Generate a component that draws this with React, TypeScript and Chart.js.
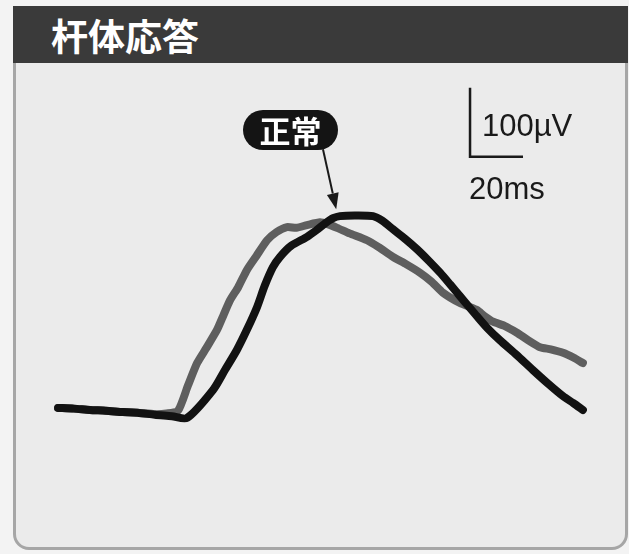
import React, { useEffect, useRef } from "react";
import { Chart, registerables } from "chart.js";

Chart.register(...registerables);

// ---- data (time in ms, amplitude in µV) ----
const titleText = "杆体応答";
const normalLabel = "正常";
const uvLabel = "100µV";
const msLabel = "20ms";

// normal (black) rod response
const blackTimeMs = [0, 6, 12, 18, 24.5, 30, 36.6, 43, 48.7, 58.5, 63, 67.5, 71.5, 75.1, 78, 81.1, 83.8, 88, 94, 97.7, 101, 103.8, 106.4, 112, 118.9, 122.5, 126.4, 131, 135.5, 140, 144.2, 148, 151.7, 155, 158.1, 162, 166.8, 173, 179.2, 185, 190.6, 194.5, 198.1];
const blackUv = [3, 2, 0, -1, -3, -4, -7, -9, -11.5, 29, 58, 87, 118, 149, 180, 207, 222, 238, 251, 261, 271, 278, 281, 282, 281, 274, 262, 248, 233, 216, 199, 182, 165, 150, 136, 119, 101, 80, 58, 38, 20, 10, 0];

// patient (gray) rod response
const grayTimeMs = [0, 6, 12, 18, 24.5, 30, 36.6, 41, 45.3, 49, 52.5, 56, 60, 62.5, 64.9, 68, 71.3, 75, 78.9, 82.5, 86.4, 90, 94, 98.9, 102, 105.3, 110, 116.6, 121, 126.4, 131.5, 136.6, 141, 145.3, 151.7, 155, 158.1, 161, 164.2, 168.5, 173.2, 177.5, 181.9, 186, 190.6, 194.5, 198.1];
const grayUv = [3, 2, 0, -1, -3, -4, -6, -5, -1, 35, 68, 90, 116, 138, 159, 178, 203, 224, 246, 258, 265, 264, 268, 272, 269, 264, 256, 246, 236, 222, 211, 199, 186, 170, 155, 150, 145, 136, 128, 122, 112, 101, 91, 88, 83, 76, 68];

// scale bar placement in data units
const scaleBarOriginMs = 155.5;
const scaleBarOriginUv = 367;
const scaleBarMs = 20;
const scaleBarUv = 100;

// arrow for the "正常" label, data units
const arrowFromMs = 100;
const arrowFromUv = 378;
const arrowToMs = 105;
const arrowToUv = 291;

const X_MIN = -21.9;
const X_MAX = 215.5;
const Y_MIN = -208.7;
const Y_MAX = 594.2;

const W = 629;
const H = 554;

const overlayPlugin = {
  id: "overlay",
  afterDatasetsDraw(chart: any) {
    const { ctx } = chart;
    const xs = chart.scales.x;
    const ys = chart.scales.y;
    ctx.save();
    // scale bar
    const x0 = xs.getPixelForValue(scaleBarOriginMs);
    const y0 = ys.getPixelForValue(scaleBarOriginUv);
    const x1 = xs.getPixelForValue(scaleBarOriginMs + scaleBarMs);
    const y1 = ys.getPixelForValue(scaleBarOriginUv + scaleBarUv);
    ctx.strokeStyle = "#1a1a1a";
    ctx.lineWidth = 2.5;
    ctx.lineCap = "butt";
    ctx.beginPath();
    ctx.moveTo(x0, y1);
    ctx.lineTo(x0, y0);
    ctx.lineTo(x1, y0);
    ctx.stroke();

    // arrow
    const ax0 = xs.getPixelForValue(arrowFromMs);
    const ay0 = ys.getPixelForValue(arrowFromUv);
    const ax1 = xs.getPixelForValue(arrowToMs);
    const ay1 = ys.getPixelForValue(arrowToUv);
    const ang = Math.atan2(ay1 - ay0, ax1 - ax0);
    const headLen = 16;
    const headHalf = 6;
    const bx = ax1 - headLen * Math.cos(ang);
    const by = ay1 - headLen * Math.sin(ang);
    ctx.lineWidth = 2;
    ctx.beginPath();
    ctx.moveTo(ax0, ay0);
    ctx.lineTo(bx, by);
    ctx.stroke();
    ctx.fillStyle = "#1a1a1a";
    ctx.beginPath();
    ctx.moveTo(ax1, ay1);
    ctx.lineTo(bx + headHalf * Math.sin(ang), by - headHalf * Math.cos(ang));
    ctx.lineTo(bx - headHalf * Math.sin(ang), by + headHalf * Math.cos(ang));
    ctx.closePath();
    ctx.fill();
    ctx.restore();
  },
};

export default function App() {
  const canvasRef = useRef<HTMLCanvasElement | null>(null);

  useEffect(() => {
    if (!canvasRef.current) return;
    const chart = new Chart(canvasRef.current, {
      type: "line",
      data: {
        datasets: [
          {
            label: "正常",
            data: blackTimeMs.map((t, i) => ({ x: t, y: blackUv[i] })),
            borderColor: "#121212",
            borderWidth: 8,
            pointRadius: 0,
            tension: 0.25,
            borderCapStyle: "round",
            borderJoinStyle: "round",
            fill: false,
          },
          {
            label: "患者",
            data: grayTimeMs.map((t, i) => ({ x: t, y: grayUv[i] })),
            borderColor: "#5e5e5e",
            borderWidth: 8,
            pointRadius: 0,
            tension: 0.2,
            borderCapStyle: "round",
            borderJoinStyle: "round",
            fill: false,
          },
        ],
      },
      options: {
        animation: false,
        responsive: false,
        maintainAspectRatio: false,
        layout: { padding: 0 },
        plugins: {
          legend: { display: false },
          title: { display: false },
          tooltip: { enabled: false },
        },
        scales: {
          x: { type: "linear", min: X_MIN, max: X_MAX, display: false },
          y: { type: "linear", min: Y_MIN, max: Y_MAX, display: false },
        },
      },
      plugins: [overlayPlugin],
    });
    return () => chart.destroy();
  }, []);

  return (
    <div
      style={{
        position: "absolute",
        left: 0,
        top: 0,
        width: W,
        height: H,
        background: "#f3f3f3",
        overflow: "hidden",
      }}
    >
      <div
        style={{
          position: "absolute",
          left: 13,
          top: 6,
          width: 615,
          height: 544,
          boxSizing: "border-box",
          border: "3px solid #a6a6a6",
          borderRadius: "0 0 16px 16px",
          background: "#ebebeb",
        }}
      />
      <div
        style={{
          position: "absolute",
          left: 13,
          top: 6,
          width: 615,
          height: 57,
          background: "#3a3a3a",
        }}
      />
      <div
        style={{
          position: "absolute",
          left: 51,
          top: 17,
          fontFamily: '"Noto Sans CJK JP", sans-serif',
          fontWeight: 700,
          fontSize: 37,
          lineHeight: "37px",
          color: "#ffffff",
          whiteSpace: "nowrap",
        }}
      >
        {titleText}
      </div>
      <canvas
        ref={canvasRef}
        width={W}
        height={H}
        style={{ position: "absolute", left: 0, top: 0, width: W, height: H }}
      />
      <div
        style={{
          position: "absolute",
          left: 243,
          top: 110,
          width: 95,
          height: 40,
          borderRadius: 20,
          background: "#141414",
          color: "#ffffff",
          fontFamily: '"Noto Sans CJK JP", sans-serif',
          fontWeight: 700,
          fontSize: 31,
          lineHeight: "40px",
          textAlign: "center",
          whiteSpace: "nowrap",
        }}
      >
        {normalLabel}
      </div>
      <div
        style={{
          position: "absolute",
          left: 482,
          top: 110,
          fontFamily: '"Liberation Sans", Arial, sans-serif',
          fontSize: 31,
          lineHeight: "31px",
          color: "#1a1a1a",
          whiteSpace: "nowrap",
        }}
      >
        {uvLabel}
      </div>
      <div
        style={{
          position: "absolute",
          left: 469,
          top: 173,
          fontFamily: '"Liberation Sans", Arial, sans-serif',
          fontSize: 31,
          lineHeight: "31px",
          color: "#1a1a1a",
          whiteSpace: "nowrap",
        }}
      >
        {msLabel}
      </div>
    </div>
  );
}
